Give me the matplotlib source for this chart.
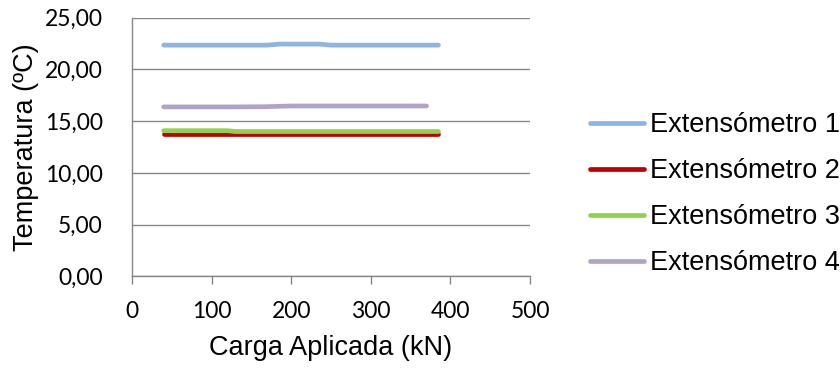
import matplotlib
matplotlib.use("Agg")
import matplotlib.pyplot as plt
import numpy as np
from matplotlib.ticker import FuncFormatter, MultipleLocator

# Applied load (kN) at each reading
load = [40, 80, 120, 130, 170, 185, 200, 235, 250, 290, 330, 370, 385]

# Temperature (ºC) per strain gauge
ext1 = [22.35, 22.35, 22.35, 22.35, 22.35, 22.45, 22.45, 22.45, 22.35, 22.35, 22.35, 22.35, 22.35]
ext2 = [13.80, 13.80, 13.80, 13.80, 13.80, 13.80, 13.80, 13.80, 13.80, 13.80, 13.80, 13.80, 13.80]
ext3 = [14.08, 14.08, 14.08, 14.00, 14.00, 14.00, 14.00, 14.00, 14.00, 14.00, 14.00, 14.00, 14.00]
ext4 = [16.38, 16.38, 16.38, 16.38, 16.40, 16.44, 16.47, 16.47, 16.47, 16.47, 16.47, 16.47, np.nan]

labels = ["Extensómetro 1", "Extensómetro 2", "Extensómetro 3", "Extensómetro 4"]
colors = ["#8EB4E3", "#C00000", "#92D050", "#B3A2C7"]

title_font = "Liberation Sans"
tick_font = "Lato"

fig = plt.figure(figsize=(8.4, 3.69), dpi=100)
ax = fig.add_axes([0.157, 0.251, 0.474, 0.701])

for y, c, lab in zip([ext1, ext2, ext3, ext4], colors, labels):
    ax.plot(load, y, color=c, lw=3.4, solid_capstyle="round", label=lab)

ax.set_xlim(0, 500)
ax.set_ylim(0, 25)
ax.xaxis.set_major_locator(MultipleLocator(100))
ax.yaxis.set_major_locator(MultipleLocator(5))
ax.yaxis.set_major_formatter(FuncFormatter(lambda v, p: f"{v:.2f}".replace(".", ",")))

ax.grid(axis="y", color="#868686", lw=1.0)
ax.set_axisbelow(True)
for s in ["top", "right"]:
    ax.spines[s].set_visible(False)
for s in ["left", "bottom"]:
    ax.spines[s].set_color("#868686")
    ax.spines[s].set_linewidth(1.0)
ax.tick_params(axis="x", direction="out", length=6, width=1.0, color="#868686",
               labelsize=16.5, pad=12)
ax.tick_params(axis="y", length=0, labelsize=16.5, pad=21)
for t in ax.get_xticklabels() + ax.get_yticklabels():
    t.set_fontfamily(tick_font)

ax.set_xlabel("Carga Aplicada (kN)", fontsize=19.5, fontfamily=title_font, labelpad=9)
ax.set_ylabel("Temperatura (ºC)", fontsize=19.5, fontfamily=title_font, labelpad=4)

leg = ax.legend(loc="center left", bbox_to_anchor=(1.151, 0.318), frameon=False,
                prop={"family": title_font, "size": 19.5}, handlelength=2.0,
                handletextpad=0.2, labelspacing=0.74, borderpad=0, borderaxespad=0)

fig.savefig("out.png", dpi=100)
